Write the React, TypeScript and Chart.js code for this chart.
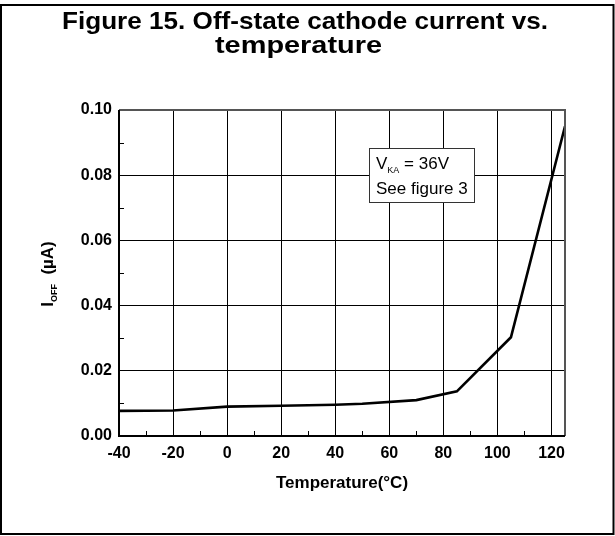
import React, { useEffect, useRef } from 'react';
import { Chart, registerables } from 'chart.js';

Chart.register(...registerables);

// ---- data ----
const temperatures = [-40, -20, 0, 20, 40, 50, 70, 85, 105, 125];
const offCurrent = [0.0077, 0.0078, 0.009, 0.0093, 0.0096, 0.0099, 0.011, 0.0137, 0.0303, 0.095];
const xTicks = [-40, -20, 0, 20, 40, 60, 80, 100, 120];
const xMinorTicks = [-30, -10, 10, 30, 50, 70, 90, 110];
const yTicks = [0, 0.02, 0.04, 0.06, 0.08, 0.1];
const yMinorTicks = [0.01, 0.03, 0.05, 0.07, 0.09];
const titleLines = ['Figure 15. Off-state cathode current vs.', 'temperature'];
const xTitle = 'Temperature(°C)';
const yTitleMain = 'I';
const yTitleSub = 'OFF';
const yTitleUnit = '(µA)';
const noteLine1Main = 'V';
const noteLine1Sub = 'KA';
const noteLine1Rest = ' = 36V';
const noteLine2 = 'See figure 3';

const FONT = '"Liberation Sans", Arial, Helvetica, sans-serif';

function fitText(ctx: CanvasRenderingContext2D, text: string, cx: number, y: number, width: number) {
  const w = ctx.measureText(text).width;
  const s = width / w;
  ctx.save();
  ctx.translate(cx, y);
  ctx.scale(s, 1);
  ctx.textAlign = 'center';
  ctx.fillText(text, 0, 0);
  ctx.restore();
}

const decoPlugin = {
  id: 'deco',
  beforeDraw(chart: any) {
    const ctx = chart.ctx as CanvasRenderingContext2D;
    ctx.save();
    ctx.fillStyle = '#fff';
    ctx.fillRect(0, 0, chart.width, chart.height);
    ctx.restore();
  },
  afterDraw(chart: any) {
    const ctx = chart.ctx as CanvasRenderingContext2D;
    const { left, right, top, bottom } = chart.chartArea;
    const xs = chart.scales.x;
    const ys = chart.scales.y;
    ctx.save();

    // plot frame
    ctx.lineWidth = 2;
    ctx.strokeStyle = '#555';
    ctx.beginPath();
    ctx.moveTo(left, top);
    ctx.lineTo(right, top);
    ctx.lineTo(right, bottom);
    ctx.stroke();
    ctx.strokeStyle = '#000';
    ctx.beginPath();
    ctx.moveTo(left, top);
    ctx.lineTo(left, bottom);
    ctx.lineTo(right, bottom);
    ctx.stroke();

    // minor ticks
    ctx.lineWidth = 1;
    ctx.strokeStyle = '#000';
    ctx.beginPath();
    for (const v of xMinorTicks) {
      const px = Math.round(xs.getPixelForValue(v)) + 0.5;
      ctx.moveTo(px, bottom);
      ctx.lineTo(px, bottom - 5);
    }
    for (const v of yMinorTicks) {
      const py = Math.round(ys.getPixelForValue(v)) + 0.5;
      ctx.moveTo(left, py);
      ctx.lineTo(left + 5, py);
    }
    ctx.stroke();

    // annotation box
    ctx.fillStyle = '#fff';
    ctx.fillRect(369.5, 148.5, 105, 54);
    ctx.strokeStyle = '#333';
    ctx.lineWidth = 1;
    ctx.strokeRect(369.5, 148.5, 105, 54);
    ctx.fillStyle = '#000';
    ctx.textAlign = 'left';
    ctx.textBaseline = 'alphabetic';
    let x = 376;
    ctx.font = `17px ${FONT}`;
    ctx.fillText(noteLine1Main, x, 169);
    x += ctx.measureText(noteLine1Main).width;
    ctx.font = `9px ${FONT}`;
    ctx.fillText(noteLine1Sub, x, 173);
    x += ctx.measureText(noteLine1Sub).width;
    ctx.font = `17px ${FONT}`;
    ctx.fillText(noteLine1Rest, x, 169);
    ctx.fillText(noteLine2, 376, 194);

    // title
    ctx.font = `bold 24px ${FONT}`;
    ctx.fillStyle = '#000';
    fitText(ctx, titleLines[0], 305, 28.5, 486);
    fitText(ctx, titleLines[1], 298.5, 53, 167);

    // x axis title
    ctx.font = `bold 17px ${FONT}`;
    ctx.textAlign = 'center';
    ctx.textBaseline = 'middle';
    ctx.fillText(xTitle, (left + right) / 2, 483);

    // y axis title (rotated)
    ctx.save();
    ctx.translate(47, 274);
    ctx.rotate(-Math.PI / 2);
    ctx.textAlign = 'left';
    ctx.textBaseline = 'alphabetic';
    ctx.font = `bold 17px ${FONT}`;
    const wMain = ctx.measureText(yTitleMain).width;
    const wGap = ctx.measureText('  ').width;
    const wUnit = ctx.measureText(yTitleUnit).width;
    ctx.font = `bold 9px ${FONT}`;
    const wSub = ctx.measureText(yTitleSub).width;
    const total = wMain + wSub + wGap + wUnit;
    let lx = -total / 2;
    ctx.font = `bold 17px ${FONT}`;
    ctx.fillText(yTitleMain, lx, 6);
    lx += wMain;
    ctx.font = `bold 9px ${FONT}`;
    ctx.fillText(yTitleSub, lx, 10);
    lx += wSub + wGap;
    ctx.font = `bold 17px ${FONT}`;
    ctx.fillText(yTitleUnit, lx, 6);
    ctx.restore();

    // outer frame
    ctx.lineWidth = 2;
    ctx.strokeStyle = '#000';
    ctx.strokeRect(1, 5, 612.5, 529);

    ctx.restore();
  },
};

export default function App() {
  const ref = useRef<HTMLCanvasElement | null>(null);

  useEffect(() => {
    if (!ref.current) return;
    const chart = new Chart(ref.current, {
      type: 'line',
      data: {
        datasets: [
          {
            data: temperatures.map((t, i) => ({ x: t, y: offCurrent[i] })),
            borderColor: '#000',
            borderWidth: 2.6,
            pointRadius: 0,
            tension: 0,
            fill: false,
          },
        ],
      },
      options: {
        animation: false,
        responsive: false,
        devicePixelRatio: 1,
        layout: { padding: { left: 0, top: 110, right: 50, bottom: 0 } },
        plugins: {
          legend: { display: false },
          title: { display: false },
          tooltip: { enabled: false },
        },
        scales: {
          x: {
            type: 'linear',
            min: -40,
            max: 125,
            afterBuildTicks: (s: any) => {
              s.ticks = xTicks.map((v) => ({ value: v }));
            },
            afterFit: (s: any) => {
              s.height = 100;
            },
            grid: { color: '#000', lineWidth: 1, drawTicks: false },
            border: { display: false },
            ticks: {
              color: '#000',
              padding: 8,
              maxRotation: 0,
              autoSkip: false,
              font: { family: FONT, size: 16, weight: 'bold' },
              callback: (v: any) => String(v),
            },
          },
          y: {
            type: 'linear',
            min: 0,
            max: 0.1,
            afterBuildTicks: (s: any) => {
              s.ticks = yTicks.map((v) => ({ value: v }));
            },
            afterFit: (s: any) => {
              s.width = 119;
            },
            grid: { color: '#000', lineWidth: 1, drawTicks: false },
            border: { display: false },
            ticks: {
              color: '#000',
              padding: 7,
              autoSkip: false,
              font: { family: FONT, size: 16, weight: 'bold' },
              callback: (v: any) => Number(v).toFixed(2),
            },
          },
        },
      },
      plugins: [decoPlugin],
    } as any);
    return () => chart.destroy();
  }, []);

  return (
    <div style={{ position: 'fixed', left: 0, top: 0, width: 615, height: 536, background: '#fff' }}>
      <canvas ref={ref} width={615} height={536} style={{ display: 'block' }} />
    </div>
  );
}
